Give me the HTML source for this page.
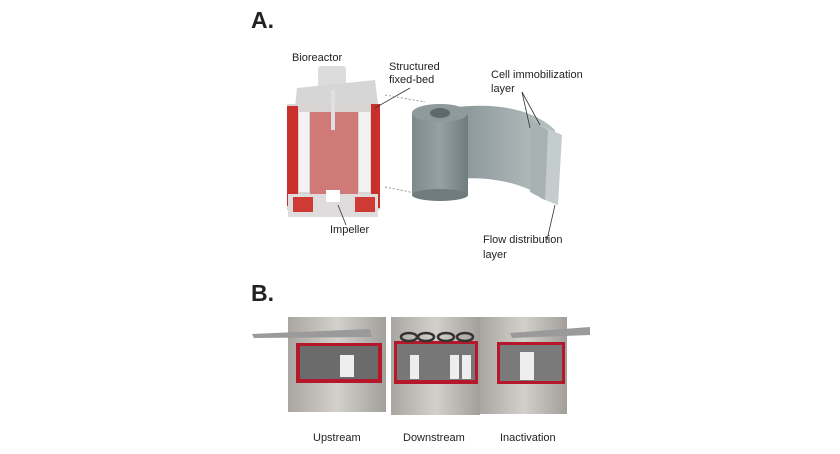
<!DOCTYPE html>
<html><head><style>
body{margin:0;background:#fff;width:840px;height:454px;overflow:hidden}
svg{display:block}
text{font-family:"Liberation Sans",Arial,sans-serif;fill:#222}
</style></head><body>
<svg width="840" height="454" viewBox="0 0 840 454" xmlns="http://www.w3.org/2000/svg">
<defs>
<linearGradient id="cyl" x1="0" x2="1"><stop offset="0" stop-color="#7d8a8c"/><stop offset="0.5" stop-color="#95a2a3"/><stop offset="1" stop-color="#6f7c7e"/></linearGradient>
<linearGradient id="sheet" x1="0" x2="1"><stop offset="0" stop-color="#7c898b"/><stop offset="1" stop-color="#b9c2c3"/></linearGradient>
<linearGradient id="steel" x1="0" x2="1"><stop offset="0" stop-color="#a9a6a2"/><stop offset="0.5" stop-color="#d3d0cc"/><stop offset="1" stop-color="#a29f9b"/></linearGradient>
</defs>
<text x="251" y="28" font-size="23" font-weight="bold" fill="#111">A.</text>
<text x="292" y="61" font-size="11">Bioreactor</text>
<text x="389" y="70" font-size="11">Structured</text>
<text x="389" y="83" font-size="11">fixed-bed</text>
<text x="491" y="78" font-size="11">Cell immobilization</text>
<text x="491" y="92" font-size="11">layer</text>
<text x="330" y="233" font-size="11">Impeller</text>
<text x="483" y="243" font-size="11">Flow distribution</text>
<text x="483" y="258" font-size="11">layer</text>
<!-- bioreactor -->
<rect x="318" y="66" width="28" height="22" fill="#dcdcdc" rx="3"/>
<path d="M297 88 L375 80 L378 104 L295 108Z" fill="#d6d6d6"/>
<rect x="287" y="104" width="93" height="106" fill="#d8d4d3"/>
<rect x="287" y="106" width="11" height="100" fill="#c9302c"/>
<rect x="371" y="104" width="9" height="104" fill="#c9302c"/>
<rect x="310" y="112" width="48" height="88" fill="#cf7a76"/>
<rect x="299" y="112" width="10" height="80" fill="#f2f2f2"/>
<rect x="359" y="112" width="11" height="80" fill="#f2f2f2"/>
<rect x="331" y="90" width="4" height="40" fill="#e0e0e0"/>
<rect x="288" y="194" width="90" height="23" fill="#dedcdc"/>
<rect x="293" y="197" width="20" height="15" fill="#d03a34"/>
<rect x="355" y="197" width="20" height="15" fill="#d03a34"/>
<rect x="326" y="190" width="14" height="12" fill="#fff"/>
<line x1="338" y1="205" x2="346" y2="225" stroke="#333" stroke-width="0.8"/>
<line x1="375" y1="108" x2="410" y2="88" stroke="#333" stroke-width="0.8"/>
<line x1="385" y1="95" x2="425" y2="102" stroke="#999" stroke-dasharray="2,2"/>
<line x1="385" y1="187" x2="425" y2="195" stroke="#999" stroke-dasharray="2,2"/>
<!-- roll -->
<path d="M430 112 C480 100 530 105 555 130 L548 200 C520 180 480 175 450 180Z" fill="url(#sheet)"/>
<path d="M540 125 L562 135 L558 205 L540 198Z" fill="#c5cccd"/>
<path d="M530 120 L548 130 L545 200 L530 192Z" fill="#a7b1b2"/>
<rect x="412" y="113" width="56" height="82" fill="url(#cyl)"/>
<ellipse cx="440" cy="195" rx="28" ry="6" fill="#6f7c7e"/>
<ellipse cx="440" cy="113" rx="28" ry="9" fill="#8e9a9b"/>
<ellipse cx="440" cy="113" rx="10" ry="5" fill="#5d6a6c"/>
<line x1="522" y1="92" x2="530" y2="128" stroke="#333" stroke-width="0.8"/>
<line x1="522" y1="92" x2="540" y2="125" stroke="#333" stroke-width="0.8"/>
<line x1="555" y1="205" x2="547" y2="240" stroke="#333" stroke-width="0.8"/>
<!-- B -->
<text x="251" y="301" font-size="23" font-weight="bold" fill="#111">B.</text>
<g>
<rect x="288" y="317" width="98" height="95" fill="url(#steel)"/>
<rect x="296" y="343" width="86" height="40" fill="#b5182b"/>
<rect x="300" y="346" width="78" height="33" fill="#6b6b6b"/>
<rect x="340" y="355" width="14" height="22" fill="#eee"/>
<path d="M252 334 L370 329 L372 337 L254 338Z" fill="#9a9a9a"/>
<rect x="391" y="317" width="89" height="98" fill="url(#steel)"/>
<rect x="394" y="341" width="84" height="43" fill="#b5182b"/>
<rect x="397" y="344" width="78" height="36" fill="#777"/>
<rect x="410" y="355" width="9" height="24" fill="#eee"/><rect x="450" y="355" width="9" height="24" fill="#eee"/><rect x="462" y="355" width="9" height="24" fill="#eee"/>
<g fill="none" stroke="#333" stroke-width="2.5"><ellipse cx="409" cy="337" rx="8" ry="4"/><ellipse cx="426" cy="337" rx="8" ry="4"/><ellipse cx="446" cy="337" rx="8" ry="4"/><ellipse cx="465" cy="337" rx="8" ry="4"/></g>
<rect x="480" y="317" width="87" height="97" fill="url(#steel)"/>
<rect x="497" y="342" width="68" height="42" fill="#b5182b"/>
<rect x="500" y="345" width="62" height="36" fill="#7a7a7a"/>
<rect x="520" y="352" width="14" height="28" fill="#eee"/>
<path d="M510 333 L590 327 L590 335 L512 338Z" fill="#9a9a9a"/>
</g>
<text x="313" y="441" font-size="11">Upstream</text>
<text x="403" y="441" font-size="11">Downstream</text>
<text x="500" y="441" font-size="11">Inactivation</text>
</svg>
</body></html>
